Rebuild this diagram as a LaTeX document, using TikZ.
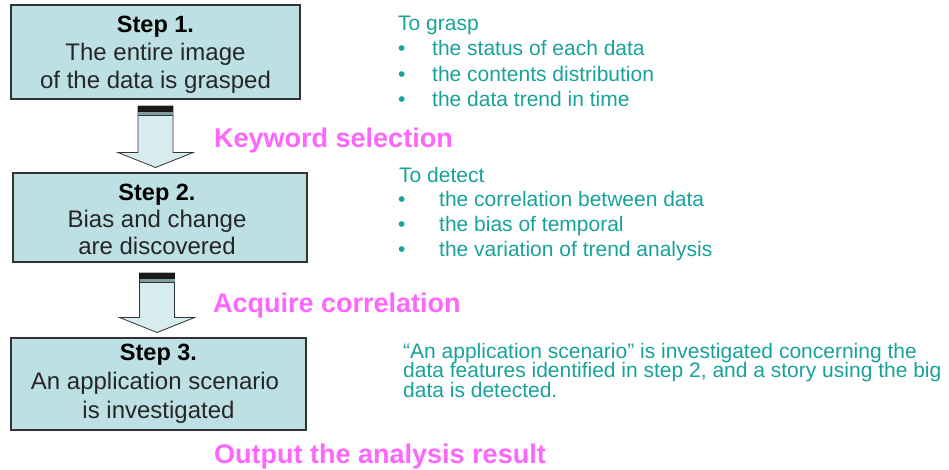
\documentclass[tikz,border=0pt]{standalone}
\usepackage{fontspec}
\setmainfont{Liberation Sans}
\usetikzlibrary{calc}
\definecolor{boxfill}{HTML}{BDE0E4}
\definecolor{arrfill}{HTML}{D6ECEF}
\definecolor{tealtxt}{HTML}{17A29B}
\definecolor{mag}{HTML}{FF66FF}
\definecolor{edge}{HTML}{333333}
\definecolor{band}{HTML}{7F9C9E}
\newcommand{\blockarrow}[3]{%
  \draw[edge, line width=0.8pt, fill=arrfill, line join=miter]
    let \p1=(#1.south), \p2=(#2.north), \n1={0.5*(\x1+\x2)-2.2pt} in
    (\n1-17.5pt,\y1-#3pt) -- (\n1+17.5pt,\y1-#3pt) -- (\n1+17.5pt,\y2+20.5pt)
    -- (\n1+37.5pt,\y2+20.5pt) -- (\n1,\y2+5.5pt) -- (\n1-37.5pt,\y2+20.5pt)
    -- (\n1-17.5pt,\y2+20.5pt) -- cycle;
  \fill[black!90] let \p1=(#1.south), \p2=(#2.north), \n1={0.5*(\x1+\x2)-2.2pt} in
    (\n1-17.9pt,\y1-#3pt+0.4pt) rectangle (\n1+17.9pt,\y1-#3pt-5.5pt);
  \fill[band] let \p1=(#1.south), \p2=(#2.north), \n1={0.5*(\x1+\x2)-2.2pt} in
    (\n1-17.5pt,\y1-#3pt-5.5pt) rectangle (\n1+17.5pt,\y1-#3pt-9pt);
  \draw[edge, line width=0.8pt] let \p1=(#1.south), \p2=(#2.north), \n1={0.5*(\x1+\x2)-2.2pt} in
    (\n1-17.5pt,\y1-#3pt-9pt) -- (\n1+17.5pt,\y1-#3pt-9pt);
}
\begin{document}
\begin{tikzpicture}[x=1pt,y=-1pt,
  box/.style={draw=edge, line width=1.1pt, fill=boxfill, inner sep=0pt, outer sep=0pt},
  bx/.style={font=\fontsize{24}{28}\selectfont, text=black!85, anchor=base, inner sep=0pt},
  bxb/.style={font=\fontsize{23.5}{28}\selectfont\bfseries, text=black, anchor=base, inner sep=0pt},
  lst/.style={font=\fontsize{21}{25}\selectfont, text=tealtxt, anchor=base west, inner sep=0pt},
  lbl/.style={font=\fontsize{27}{30}\selectfont\bfseries, text=mag, anchor=base west, inner sep=0pt}]
\useasboundingbox[fill=white] (0,0) rectangle (949,469);

% boxes
\node[box, minimum width=289pt, minimum height=94pt] (b1) at (155.5,52) {};
\node[box, minimum width=294pt, minimum height=89pt] (b2) at (160,217.5) {};
\node[box, minimum width=295pt, minimum height=92pt] (b3) at (158.5,384) {};

\node[bxb] (s1) at (155.5,32) {Step 1.};
\node[bx] (s1a) at (155.5,60) {The entire image};
\node[bx] (s1b) at (155.5,88) {of the data is grasped};

\node[bxb] (s2) at (157,200) {Step 2.};
\node[bx] (s2a) at (157,227) {Bias and change};
\node[bx] (s2b) at (157,254) {are discovered};

\node[bxb] (s3) at (158.5,360) {Step 3.};
\node[bx] (s3a) at (155,389) {An application scenario};
\node[bx] (s3b) at (158.5,418) {is investigated};

% block arrows
\blockarrow{b1}{b2}{7}
\blockarrow{b2}{b3}{11}

% magenta labels
\node[lbl] (k1) at (214,147) {Keyword selection};
\node[lbl] (k2) at (213,312) {Acquire correlation};
\node[lbl] (k3) at (214,463) {Output the analysis result};

% list 1
\node[lst] (g0) at (398,30) {To grasp};
\node[lst] (g1b) at (398,55.5) {•};
\node[lst] (g1) at (432,55.5) {the status of each data};
\node[lst] (g2b) at (398,81) {•};
\node[lst] (g2) at (432,81) {the contents distribution};
\node[lst] (g3b) at (398,106.5) {•};
\node[lst] (g3) at (432,106.5) {the data trend in time};

% list 2
\node[lst] (d0) at (399,182) {To detect};
\node[lst] (d1b) at (398,206) {•};
\node[lst] (d1) at (439,206) {the correlation between data};
\node[lst] (d2b) at (398,231) {•};
\node[lst] (d2) at (439,231) {the bias of temporal};
\node[lst] (d3b) at (398,256) {•};
\node[lst] (d3) at (439,256) {the variation of trend analysis};

% paragraph
\node[lst] (p1) at (403,358) {“An application scenario” is investigated concerning the};
\node[lst] (p2) at (403,377.5) {data features identified in step 2, and a story using the big};
\node[lst] (p3) at (403,397) {data is detected.};
\end{tikzpicture}
\end{document}
